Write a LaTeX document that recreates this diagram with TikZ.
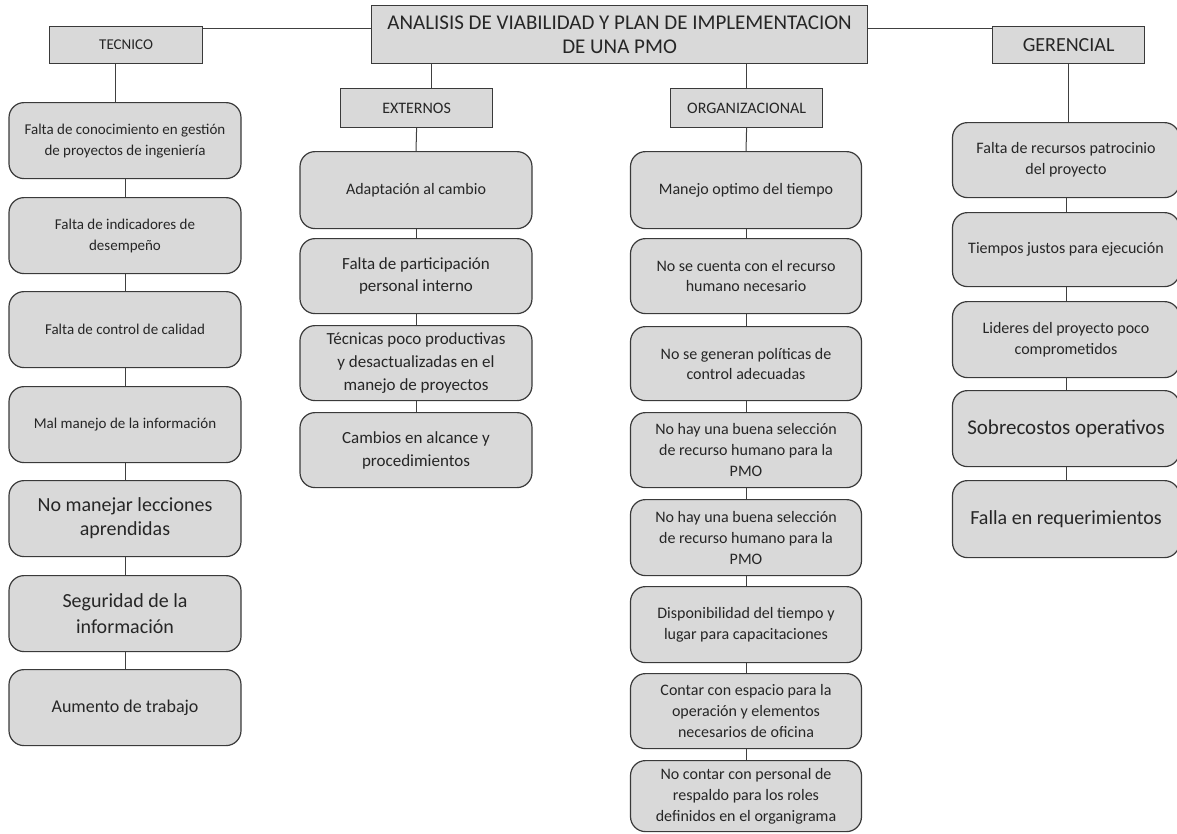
\documentclass[tikz,border=0pt]{standalone}
\usepackage{fontspec}
\setmainfont{Carlito}
\definecolor{boxfill}{HTML}{D9D9D9}
\definecolor{edge}{HTML}{3A3A3A}
\definecolor{linkc}{HTML}{404040}
\newcommand\fsz[2]{\fontsize{#1}{#2}\selectfont}
\begin{document}
\begin{tikzpicture}[x=1pt,y=-1pt,
  hdr/.style={draw=edge, fill=boxfill, line width=1.2pt, inner sep=0pt, align=center, anchor=north west, text=black!85},
  rbox/.style={draw=edge, fill=boxfill, line width=1.2pt, rounded corners=15pt, inner sep=2pt, align=center, anchor=north, text=black!85},
  lcol/.style={rbox, minimum width=232pt},
  link/.style={draw=linkc, line width=1pt}]
\useasboundingbox (0,0) rectangle (1177,833);
\clip (0,0) rectangle (1177,833);

% title and category headers
\node[hdr, minimum width=496pt, minimum height=58pt, font=\fsz{21}{24}] (root) at (371,5)
  {ANALISIS DE VIABILIDAD Y PLAN DE IMPLEMENTACION\\DE UNA PMO};
\node[hdr, minimum width=153pt, minimum height=37pt, font=\fsz{15}{18}] (tec) at (49,26) {TECNICO};
\node[hdr, minimum width=152pt, minimum height=39pt, font=\fsz{16}{19}] (ext) at (340,88) {EXTERNOS};
\node[hdr, minimum width=152pt, minimum height=39pt, font=\fsz{16}{19}] (org) at (670,88) {ORGANIZACIONAL};
\node[hdr, minimum width=152pt, minimum height=37pt, font=\fsz{20}{23}] (ger) at (992,26) {GERENCIAL};

% TECNICO column
\node[lcol, minimum height=76pt, font=\fsz{15}{21}] (t1) at (125,102) {Falta de conocimiento en gestión\\de proyectos de ingeniería};
\node[lcol, minimum height=76pt, font=\fsz{15}{21}] (t2) at (125,197) {Falta de indicadores de\\desempeño};
\node[lcol, minimum height=76pt, font=\fsz{15}{21}] (t3) at (125,291) {Falta de control de calidad};
\node[lcol, minimum height=76pt, font=\fsz{15}{21}] (t4) at (125,386) {Mal manejo de la información};
\node[lcol, minimum height=76pt, font=\fsz{20}{24}] (t5) at (125,480) {No manejar lecciones\\aprendidas};
\node[lcol, minimum height=76pt, font=\fsz{20}{26}] (t6) at (125,575) {Seguridad de la\\información};
\node[lcol, minimum height=76pt, font=\fsz{18}{22}] (t7) at (125,669) {Aumento de trabajo};

% EXTERNOS column
\node[lcol, minimum height=77pt, font=\fsz{16}{20}] (e1) at (416,151) {Adaptación al cambio};
\node[lcol, minimum height=75pt, font=\fsz{17}{22}] (e2) at (416,238) {Falta de participación\\personal interno};
\node[lcol, minimum height=75pt, font=\fsz{17}{23}] (e3) at (416,325) {Técnicas poco productivas\\y desactualizadas en el\\manejo de proyectos};
\node[lcol, minimum height=75pt, font=\fsz{17}{23}] (e4) at (416,412) {Cambios en alcance y\\procedimientos};

% ORGANIZACIONAL column
\node[rbox, minimum width=231pt, minimum height=77pt, font=\fsz{16}{20}] (o1) at (746,151) {Manejo optimo del tiempo};
\node[rbox, minimum width=231pt, minimum height=75pt, font=\fsz{16}{20}] (o2) at (746,238) {No se cuenta con el recurso\\humano necesario};
\node[rbox, minimum width=231pt, minimum height=74pt, font=\fsz{16}{20}] (o3) at (746,326) {No se generan políticas de\\control adecuadas};
\node[rbox, minimum width=231pt, minimum height=75pt, font=\fsz{16}{21}] (o4) at (746,412) {No hay una buena selección\\de recurso humano para la\\PMO};
\node[rbox, minimum width=231pt, minimum height=76pt, font=\fsz{16}{21}] (o5) at (746,499) {No hay una buena selección\\de recurso humano para la\\PMO};
\node[rbox, minimum width=231pt, minimum height=76pt, font=\fsz{16}{21}] (o6) at (746,586) {Disponibilidad del tiempo y\\lugar para capacitaciones};
\node[rbox, minimum width=231pt, minimum height=75pt, font=\fsz{16}{21}] (o7) at (746,673) {Contar con espacio para la\\operación y elementos\\necesarios de oficina};
\node[rbox, minimum width=231pt, minimum height=71pt, font=\fsz{16}{21}] (o8) at (746,760) {No contar con personal de\\respaldo para los roles\\definidos en el organigrama};

% GERENCIAL column
\node[rbox, minimum width=227pt, minimum height=75pt, font=\fsz{16}{21}] (g1) at (1066,122) {Falta de recursos patrocinio\\del proyecto};
\node[rbox, minimum width=227pt, minimum height=74pt, font=\fsz{16}{20}] (g2) at (1066,212) {Tiempos justos para ejecución};
\node[rbox, minimum width=227pt, minimum height=76pt, font=\fsz{16}{21}] (g3) at (1066,301) {Lideres del proyecto poco\\comprometidos};
\node[rbox, minimum width=227pt, minimum height=76pt, font=\fsz{21}{24}] (g4) at (1066,390) {Sobrecostos operativos};
\node[rbox, minimum width=227pt, minimum height=77pt, font=\fsz{20}{24}] (g5) at (1066,480) {Falla en requerimientos};

% connectors from the title to the categories
\coordinate (tl) at ([yshift=-2pt]tec.north east);
\draw[link] (tl) -- (tl -| root.west);
\coordinate (gl) at ([yshift=-2pt]ger.north west);
\draw[link] (gl) -- (gl -| root.east);
\coordinate (rx) at ([xshift=15pt]ext.north);
\draw[link] (rx |- root.south) -- (rx);
\draw[link] (root.south -| org.north) -- (org.north);

% connectors from each category to its first item
\coordinate (tx) at ([xshift=-11pt]tec.south);
\draw[link] (tx) -- (tx |- t1.north);
\draw[link] (ext.south) -- (e1.north);
\draw[link] (org.south) -- (o1.north);
\draw[link] (ger.south) -- (ger.south |- g1.north);

% chains inside each column
\foreach \a/\b in {t1/t2,t2/t3,t3/t4,t4/t5,t5/t6,t6/t7,e1/e2,e2/e3,e3/e4,o1/o2,o2/o3,o3/o4,o4/o5,o5/o6,o6/o7,o7/o8,g1/g2,g2/g3,g3/g4,g4/g5}
  \draw[link] (\a.south) -- (\b.north);
\end{tikzpicture}
\end{document}
